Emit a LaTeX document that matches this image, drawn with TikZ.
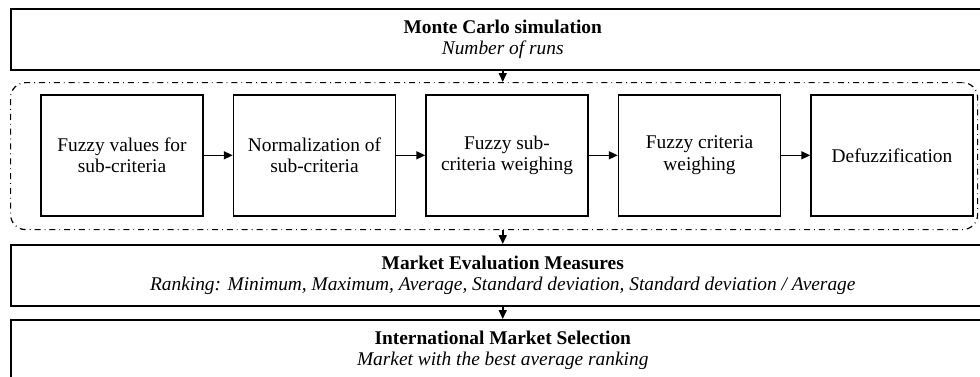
\documentclass[tikz,border=0pt]{standalone}
\usepackage{fontspec}
\setmainfont{Liberation Serif}
\usetikzlibrary{arrows.meta,positioning}

\begin{document}
\begin{tikzpicture}[x=0.5pt,y=-0.5pt,
    font=\fontsize{9.7}{10.8}\selectfont,
    stage/.style={draw, line width=0.75pt, minimum width=81pt, minimum height=60.5pt, align=center, inner sep=2pt},
    band/.style={draw, line width=0.75pt, minimum width=492pt, minimum height=30.5pt, align=center, inner sep=2pt},
    arr/.style={-{Triangle[length=4.5pt,width=4pt]}, line width=0.75pt}]
    \useasboundingbox (0,0) rectangle (980,376);
    % outer bands
    \node[band, anchor=north west] (mc) at (10,8) {\textbf{Monte Carlo simulation}\\\textit{Number of runs}};
    \node[band, anchor=north west] (mev) at (10,244) {\textbf{Market Evaluation Measures}\\\textit{Ranking: Minimum, Maximum, Average, Standard deviation, Standard deviation / Average}};
    \node[band, anchor=north west] (ims) at (10,319) {\textbf{International Market Selection}\\\textit{Market with the best average ranking}};
    % simulation loop
    \node[draw, dash dot, line width=0.6pt, rounded corners=7.5pt, minimum width=483.5pt, minimum height=73.5pt, anchor=north west] (loop) at (10,82) {};
    \node[stage] (f1) at (122,155.3) {Fuzzy values for\\sub-criteria};
    \node[stage, right=14.5pt of f1] (f2) {Normalization of\\sub-criteria};
    \node[stage, right=14.5pt of f2] (f3) {Fuzzy sub-\\criteria weighing};
    \node[stage, right=14.5pt of f3] (f4) {Fuzzy criteria\\weighing};
    \node[stage, right=14.5pt of f4] (f5) {Defuzzification};
    \foreach \a/\b in {f1/f2,f2/f3,f3/f4,f4/f5}
        \draw[arr] (\a) -- (\b);
    \draw[arr] (mc.south) -- (mc.south |- loop.north);
    \draw[arr] (mev.north |- loop.south) -- (mev.north);
    \draw[arr] (mev.south) -- (ims.north);
\end{tikzpicture}
\end{document}
